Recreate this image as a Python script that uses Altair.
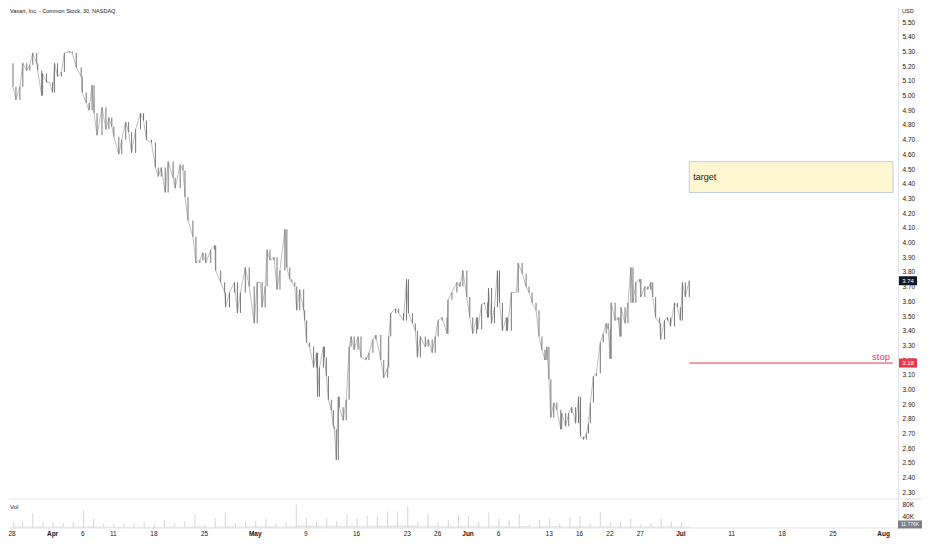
import altair as alt
import pandas as pd

TITLE = "Vaxart, Inc. - Common Stock, 30, NASDAQ"
FONT = "Liberation Sans"

# time axis in trading sessions counted from Mar 28 2022 (fraction = time within the session)
t_days = [
    -0.6, -0.39, 0.0, 0.10, 0.39, 0.78, 1.07, 1.46, 1.76, 2.05,
    2.44, 2.54, 2.93, 3.02, 3.41, 3.71, 4.00, 4.20, 4.49, 4.88,
    5.17, 5.66, 5.95, 6.34, 6.83, 6.93, 7.32, 7.61, 7.90, 8.10,
    8.39, 8.88, 9.27, 9.56, 9.85, 10.05, 10.54, 10.83, 11.22, 11.51,
    11.80, 12.20, 12.68, 12.98, 13.27, 13.76, 14.15, 14.44, 14.73, 15.12,
    15.41, 15.90, 16.10, 16.59, 16.88, 17.07, 17.37, 17.85, 18.15, 18.54,
    18.83, 19.12, 19.61, 20.00, 20.10, 20.59, 20.98, 21.07, 21.46, 21.95,
    22.24, 22.54, 23.02, 23.41, 23.90, 24.20, 24.49, 24.68, 24.98, 25.17,
    25.46, 25.85, 26.15, 26.44, 26.93, 27.12, 27.41, 27.61, 27.90, 28.10,
    28.39, 28.78, 28.88, 29.07, 29.37, 29.76, 30.05, 30.15, 30.34, 30.73,
    30.83, 31.02, 31.22, 31.51, 31.71, 31.80, 32.00, 32.20, 32.29, 32.68,
    32.98, 33.27, 33.46, 33.76, 34.15, 34.44, 34.93, 35.22, 35.61, 35.90,
    36.39, 36.68, 37.07, 37.17, 37.37, 37.85, 38.15, 38.63, 38.93, 39.12,
    39.51, 39.80, 40.00, 40.29, 40.78, 41.07, 41.46, 41.76, 42.05, 42.44,
    42.93, 43.02, 43.41, 43.90, 44.20, 44.49, 44.88, 45.17, 45.46, 45.85,
    45.95, 46.34, 46.63, 46.93, 47.02, 47.32, 47.61, 47.90, 48.10, 48.39,
    48.78, 48.88, 49.27, 49.76, 49.95, 50.34, 50.73, 51.02, 51.32, 51.71,
    52.00, 52.29, 52.59, 52.78, 52.98, 53.17, 53.46, 53.76, 54.15, 54.24,
    54.63, 54.93, 55.22, 55.61, 55.90, 56.10, 56.39, 56.68, 56.88, 57.07,
    57.37, 57.66, 58.05, 58.34, 58.63, 58.83, 59.02, 59.12, 59.51, 59.80,
    60.00, 60.10, 60.49, 60.78, 61.07, 61.27, 61.56, 61.95, 62.05, 62.44,
    62.73, 63.02, 63.22, 63.51, 63.90, 64.00, 64.39, 64.68, 64.98, 65.37,
    65.66, 65.95, 66.15, 66.44, 66.83,
]

close_px = [
    5.11, 5.06, 5.22, 5.06, 4.97, 5.06, 5.22, 5.17, 5.21, 5.29,
    5.22, 5.17, 5.00, 5.15, 5.09, 5.09, 5.02, 5.22, 5.13, 5.16,
    5.29, 5.30, 5.29, 5.19, 5.13, 5.02, 4.95, 4.90, 5.07, 4.88,
    4.73, 4.92, 4.77, 4.85, 4.79, 4.72, 4.60, 4.70, 4.82, 4.75,
    4.61, 4.77, 4.88, 4.83, 4.70, 4.68, 4.51, 4.45, 4.51, 4.34,
    4.55, 4.44, 4.37, 4.53, 4.49, 4.31, 4.15, 4.04, 3.86, 3.88,
    3.93, 3.86, 3.95, 3.98, 3.81, 3.73, 3.66, 3.56, 3.66, 3.73,
    3.52, 3.66, 3.83, 3.70, 3.45, 3.73, 3.73, 3.56, 3.70, 3.95,
    3.88, 3.90, 3.68, 3.81, 4.09, 3.83, 3.75, 3.73, 3.70, 3.54,
    3.68, 3.54, 3.47, 3.32, 3.29, 3.15, 3.25, 2.95, 3.15, 3.29,
    3.22, 3.09, 2.93, 2.86, 2.75, 2.73, 2.52, 2.95, 2.88, 2.79,
    2.93, 3.29, 3.36, 3.27, 3.36, 3.22, 3.20, 3.25, 3.34, 3.37,
    3.20, 3.08, 3.15, 3.36, 3.52, 3.55, 3.52, 3.47, 3.75, 3.52,
    3.45, 3.40, 3.22, 3.36, 3.29, 3.34, 3.25, 3.36, 3.47, 3.49,
    3.38, 3.61, 3.66, 3.73, 3.70, 3.81, 3.63, 3.49, 3.38, 3.49,
    3.41, 3.58, 3.59, 3.49, 3.69, 3.45, 3.56, 3.81, 3.59, 3.40,
    3.49, 3.40, 3.66, 3.66, 3.86, 3.79, 3.70, 3.66, 3.59, 3.54,
    3.36, 3.27, 3.20, 3.29, 3.07, 2.81, 2.91, 2.86, 2.73, 2.84,
    2.75, 2.84, 2.88, 2.77, 2.95, 2.68, 2.66, 2.70, 2.77, 2.91,
    3.09, 3.11, 3.32, 3.38, 3.45, 3.41, 3.21, 3.59, 3.47, 3.49,
    3.36, 3.56, 3.45, 3.59, 3.83, 3.59, 3.73, 3.75, 3.63, 3.70,
    3.68, 3.73, 3.63, 3.49, 3.45, 3.34, 3.47, 3.49, 3.43, 3.59,
    3.56, 3.47, 3.73, 3.63, 3.74,
]

# volume per session (thousands): opening-bar spike and typical intraday level
vol_open_k = [
    19, 21, 49, 21, 20, 16, 19, 59, 31, 15,
    15, 15, 15, 19, 15, 28, 15, 24, 45, 12,
    33, 52, 15, 21, 24, 31, 15, 19, 78, 35,
    21, 33, 24, 47, 33, 42, 38, 56, 56, 71,
    21, 49, 21, 28, 45, 40, 19, 52, 31, 28,
    47, 12, 26, 33, 15, 35, 40, 15, 54, 17,
    21, 31, 12, 15, 31, 21, 19,
]
vol_base_k = [
    5, 5, 6, 5, 5, 4, 5, 6, 5, 4,
    4, 4, 4, 4, 4, 5, 4, 5, 6, 4,
    5, 6, 5, 6, 6, 6, 5, 6, 9, 8,
    7, 8, 7, 8, 7, 8, 8, 9, 9, 9,
    7, 8, 6, 6, 7, 7, 6, 7, 6, 6,
    7, 5, 6, 7, 5, 6, 7, 5, 7, 5,
    5, 6, 5, 5, 6, 5, 5,
]

x_tick_days = [0, 4, 7, 10, 14, 19, 24, 29, 34, 39, 42, 45, 48, 53, 56, 59, 62, 66, 71, 76, 81, 86]
x_tick_labels = ["28", "Apr", "6", "11", "18", "25", "May", "9", "16", "23", "26",
                 "Jun", "6", "13", "16", "22", "27", "Jul", "11", "18", "25", "Aug"]
month_labels = ["Apr", "May", "Jun", "Jul", "Aug"]
price_ticks = [2.3, 2.4, 2.5, 2.6, 2.7, 2.8, 2.9, 3.0, 3.1, 3.2, 3.3, 3.4, 3.5, 3.6, 3.7,
               3.8, 3.9, 4.0, 4.1, 4.2, 4.3, 4.4, 4.5, 4.6, 4.7, 4.8, 4.9, 5.0, 5.1,
               5.2, 5.3, 5.4, 5.5]
vol_ticks = [40000, 80000]

last_price = 3.74
stop_price = 3.18
target_low, target_high = 4.34, 4.55
plan_start = 66.83
last_volume = 11776

# layout (plot area W x H; price pane on top, volume pane below)
W, H = 890, 528
PRICE_H = 499
X_DOM = [0.10, 86.93]
P_DOM = [2.255, 5.65]
V_DOM = [0, 96700]
GRID = "#e0e3eb"
INK = "#131722"
RED = "#f23645"
AXIS_RIGHT = 24

xs = alt.Scale(domain=X_DOM, nice=False, zero=False)
ps = alt.Scale(domain=P_DOM, range=[PRICE_H, 0], nice=False, zero=False)
vs = alt.Scale(domain=V_DOM, range=[H, PRICE_H], nice=False, zero=False)

n = min(len(t_days), len(close_px))
candles = pd.DataFrame({
    "t": t_days[1:n],
    "open": close_px[0:n - 1],
    "close": close_px[1:n],
})
line_df = pd.DataFrame({"t": t_days[:n], "p": close_px[:n]})

nd = min(len(vol_open_k), len(vol_base_k))
vol_df = pd.DataFrame({"d": list(range(nd))})
vol_df["d_end"] = vol_df["d"] + 1
vol_df["d_open"] = vol_df["d"] + 0.05
vol_df["open_v"] = [v * 1000 for v in vol_open_k[:nd]]
vol_df["base_v"] = [v * 1000 for v in vol_base_k[:nd]]

xlab_df = pd.DataFrame({"d": x_tick_days, "lab": x_tick_labels})
xlab_df["bold"] = xlab_df["lab"].isin(month_labels)
xlab_df["edge"] = xlab_df["d"] < X_DOM[0]

price_axis = alt.Axis(orient="right", values=price_ticks, format=".2f", ticks=False, grid=False,
                      domainColor=GRID, labelFontSize=6.5, labelColor=INK, labelPadding=4,
                      title=None, labelOverlap=False, labelFlush=False, labelFont=FONT)
vol_axis = alt.Axis(orient="right", values=vol_ticks, labelExpr="datum.value / 1000 + 'K'",
                    ticks=False, grid=False, domainColor=GRID, labelFontSize=6.5, labelColor=INK,
                    labelPadding=4, title=None, labelOverlap=False, labelFlush=False, labelFont=FONT)

in_view = "datum.t >= %s" % X_DOM[0]
x0 = X_DOM[0]


def X(f):
    return alt.X(f, scale=xs, axis=None)


# only the part of each series that falls inside the visible time window is drawn
vol_band = alt.Chart(vol_df).transform_calculate(
    d_vis="max(datum.d, %s)" % x0).mark_rect(color="#e9e9e9").encode(
    x=X("d_vis:Q"), x2="d_end:Q",
    y=alt.Y("base_v:Q", scale=vs, axis=vol_axis), y2=alt.datum(0))
vol_spike = alt.Chart(vol_df).transform_calculate(
    d_vis="max(datum.d_open, %s)" % (x0 + 0.06)).mark_rule(color="#d6d6d6", strokeWidth=1).encode(
    x=X("d_vis:Q"),
    y=alt.Y("open_v:Q", scale=vs, axis=None), y2=alt.datum(0))

price_line = alt.Chart(line_df).transform_filter(in_view).mark_line(
    color="#a3a3a3", strokeWidth=0.7).encode(
    x=X("t:Q"),
    y=alt.Y("p:Q", scale=ps, axis=price_axis))
candle_bars = alt.Chart(candles).transform_filter(in_view).mark_bar(
    width=1.0, color="#777777").encode(
    x=X("t:Q"),
    y=alt.Y("open:Q", scale=ps, axis=None), y2="close:Q")

plan_df = pd.DataFrame({"start": [plan_start], "end": [X_DOM[1]], "lo": [target_low],
                        "hi": [target_high], "mid": [(target_low + target_high) / 2],
                        "stop": [stop_price], "label": ["target"], "slabel": ["stop"]})
target_box = alt.Chart(plan_df).mark_rect(fill="#fff7d1", stroke="#c3cbdc", strokeWidth=1).encode(
    x=X("start:Q"), x2="end:Q",
    y=alt.Y("lo:Q", scale=ps, axis=None), y2="hi:Q")
target_text = alt.Chart(plan_df).mark_text(align="left", baseline="middle", dx=4, fontSize=9,
                                           color=INK, font=FONT).encode(
    x=X("start:Q"), y=alt.Y("mid:Q", scale=ps, axis=None), text="label:N")
stop_rule = alt.Chart(plan_df).mark_rule(color=RED, strokeWidth=1).encode(
    x=X("start:Q"), x2="end:Q", y=alt.Y("stop:Q", scale=ps, axis=None))
stop_text = alt.Chart(plan_df).mark_text(align="right", baseline="middle", dx=-3, dy=-6,
                                         fontSize=9.5, color=RED, font=FONT).encode(
    x=X("end:Q"), y=alt.Y("stop:Q", scale=ps, axis=None), text="slabel:N")

# price labels on the axis (filled rectangles drawn as custom point shapes)
BADGE = "M-1,-0.5L1,-0.5L1,0.5L-1,0.5Z"
VBADGE = "M-1,-0.33L1,-0.33L1,0.33L-1,0.33Z"
badge_df = pd.DataFrame({"v": [last_price, stop_price], "txt": ["%.2f" % last_price, "%.2f" % stop_price],
                         "c": [INK, RED]})
price_badges = alt.Chart(badge_df).mark_point(shape=BADGE, size=18 * 18, filled=True, opacity=1,
                                              strokeWidth=0).encode(
    x=alt.value(W + 10), y=alt.Y("v:Q", scale=ps, axis=None), color=alt.Color("c:N", scale=None))
price_badge_txt = alt.Chart(badge_df).mark_text(fontSize=6, color="white", font=FONT,
                                               align="center", baseline="middle").encode(
    x=alt.value(W + 10), y=alt.Y("v:Q", scale=ps, axis=None), text="txt:N")
vbadge_df = pd.DataFrame({"v": [last_volume], "txt": ["%.3fK" % (last_volume / 1000)]})
vol_badge = alt.Chart(vbadge_df).mark_point(shape=VBADGE, size=24 * 24, filled=True, opacity=1,
                                            strokeWidth=0, color="#7b7e87").encode(
    x=alt.value(W + 12), y=alt.Y("v:Q", scale=vs, axis=None))
vol_badge_txt = alt.Chart(vbadge_df).mark_text(fontSize=5, color="white", font=FONT,
                                               baseline="middle").encode(
    x=alt.value(W + 12), y=alt.Y("v:Q", scale=vs, axis=None), text="txt:N")

sep_df = pd.DataFrame({"k": [0]})
sep1 = alt.Chart(sep_df).mark_rule(color=GRID, strokeWidth=1).encode(
    x=alt.value(1), x2=alt.value(W + AXIS_RIGHT), y=alt.value(PRICE_H))
sep2 = alt.Chart(sep_df).mark_rule(color=GRID, strokeWidth=1).encode(
    x=alt.value(1), x2=alt.value(W + AXIS_RIGHT), y=alt.value(H))

xlab_edge = alt.Chart(xlab_df).transform_filter("datum.edge").mark_text(
    fontSize=6.5, color=INK, font=FONT, baseline="middle", align="left").encode(
    x=alt.value(0.5), y=alt.value(H + 6), text="lab:N")
xlab_norm = alt.Chart(xlab_df).transform_filter("!datum.bold && !datum.edge").mark_text(
    fontSize=6.5, color=INK, font=FONT, baseline="middle").encode(
    x=X("d:Q"), y=alt.value(H + 6), text="lab:N")
xlab_bold = alt.Chart(xlab_df).transform_filter("datum.bold && !datum.edge").mark_text(
    fontSize=6.5, color=INK, font=FONT, fontWeight="bold", baseline="middle").encode(
    x=X("d:Q"), y=alt.value(H + 6), text="lab:N")

title_txt = alt.Chart(pd.DataFrame({"s": [TITLE]})).mark_text(
    align="left", baseline="middle", fontSize=5.5, color=INK, font=FONT).encode(
    x=alt.value(2), y=alt.value(11), text="s:N")
usd_txt = alt.Chart(pd.DataFrame({"s": ["USD"]})).mark_text(
    align="left", baseline="middle", fontSize=5.5, color=INK, font=FONT).encode(
    x=alt.value(W + 4), y=alt.value(11), text="s:N")
vol_txt = alt.Chart(pd.DataFrame({"s": ["Vol"]})).mark_text(
    align="left", baseline="middle", fontSize=6, color=INK, font=FONT).encode(
    x=alt.value(2), y=alt.value(PRICE_H + 8), text="s:N")

chart = alt.layer(
    vol_band, vol_spike, target_box, target_text, stop_rule, stop_text,
    price_line, candle_bars, sep1, sep2,
    price_badges, price_badge_txt, vol_badge, vol_badge_txt,
    xlab_edge, xlab_norm, xlab_bold, title_txt, usd_txt, vol_txt,
).resolve_scale(y="independent", color="independent").properties(
    width=W, height=H,
    padding={"left": 0, "top": -8, "right": 0, "bottom": 0},
    background="white",
).configure_view(stroke=None)

chart.save("out.html", embed_options={"renderer": "svg", "actions": False})
